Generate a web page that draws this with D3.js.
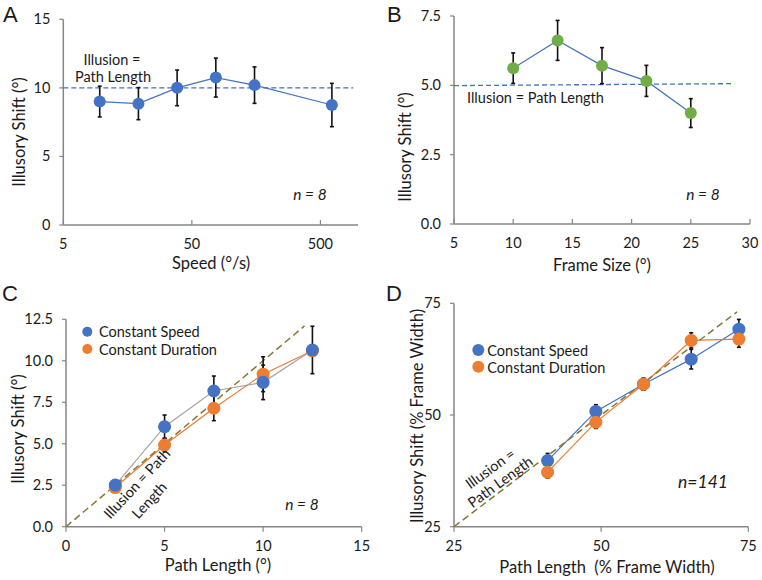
<!DOCTYPE html>
<html><head><meta charset="utf-8">
<script src="https://cdn.jsdelivr.net/npm/d3@7"></script>
<style>
body{margin:0;background:#fff;}
svg{display:block;}
text{font-family:Lato,"Open Sans",sans-serif;fill:#1a1a1a;white-space:pre;}
</style></head>
<body><svg id="c" width="762" height="580"></svg>
<script>
// ---------- DATA ----------
// Panel A
const speedA = [9.6, 19.2, 38.4, 76.8, 153.6, 614];
const shiftA = [9.0, 8.85, 10.0, 10.75, 10.2, 8.75];
const errA   = [1.12, 1.17, 1.3, 1.42, 1.33, 1.58];
const refA = 10;
const xTicksA = [5, 50, 500];
const yTicksA = [0, 5, 10, 15];
// Panel B
const frameB = [10, 13.75, 17.5, 21.25, 25];
const shiftB = [5.62, 6.62, 5.71, 5.16, 4.0];
const errB   = [0.55, 0.72, 0.65, 0.56, 0.52];
const refB = [[5, 4.99], [28.4, 5.06]];
const xTicksB = [5, 10, 15, 20, 25, 30];
const yTicksB = [0, 2.5, 5, 7.5];
// Panel C
const pathC = [2.5, 5, 7.5, 10, 12.5];
const speedC = [2.51, 6.03, 8.18, 8.70, 10.65];
const speedErrC = [0.15, 0.7, 0.9, 1.04, 1.43];
const durC = [2.36, 4.92, 7.14, 9.19, 10.6];
const durErrC = [0.12, 0.4, 0.75, 1.05, 0.3];
const refC = [0, 12.1];
const xTicksC = [0, 5, 10, 15];
const yTicksC = [0, 2.5, 5, 7.5, 10, 12.5];
// Panel D
const pathD = [40.9, 49.1, 57.2, 65.3, 73.4];
const speedD = [39.8, 50.8, 56.9, 62.5, 69.2];
const speedErrD = [1.6, 1.5, 1.3, 2.2, 2.2];
const durD = [37.2, 48.4, 56.9, 66.7, 67.0];
const durErrD = [1.3, 1.4, 1.3, 1.7, 1.85];
const refD = [25, 73.1];
const xTicksD = [25, 50, 75];
const yTicksD = [25, 50, 75];

// ---------- STYLE ----------
const BLUE = "#4472C4", ORANGE = "#ED7D31", GREEN = "#70AD47", GRAYLINE = "#A5A5A5", OLIVE = "#8A7633", AXIS = "#868686";
const svg = d3.select("#c");
const fmt1 = d3.format(".1f");

function axes(g, x, y, xt, yt, xfmt, yfmt, xTickIn) {
  const [x0, x1] = x.range(), [y0, y1] = y.range();
  const ax = g.append("g");
  ax.append("line").attr("x1", x0).attr("x2", x1).attr("y1", y0).attr("y2", y0).attr("stroke", AXIS).attr("stroke-width", 1.5);
  ax.append("line").attr("x1", x0).attr("x2", x0).attr("y1", y0).attr("y2", y1).attr("stroke", AXIS).attr("stroke-width", 1.5);
  ax.selectAll(".xt").data(xt).join("line").attr("x1", d => x(d)).attr("x2", d => x(d))
    .attr("y1", y0).attr("y2", y0 + (xTickIn ? -5 : 5)).attr("stroke", AXIS).attr("stroke-width", 1.2);
  ax.selectAll(".yt").data(yt).join("line").attr("x1", x0 - 4).attr("x2", x0)
    .attr("y1", d => y(d)).attr("y2", d => y(d)).attr("stroke", AXIS).attr("stroke-width", 1.2);
  ax.selectAll(".xl").data(xt).join("text").attr("x", d => x(d)).attr("y", y0 + 24)
    .attr("text-anchor", "middle").attr("font-size", 14.5).text(xfmt);
  ax.selectAll(".yl").data(yt).join("text").attr("x", x0 - 13).attr("y", d => y(d) + 5)
    .attr("text-anchor", "end").attr("font-size", 14.5).text(yfmt);
}
function errBars(g, xs, ys, es, x, y) {
  const d = xs.map((v, i) => [v, ys[i], es[i]]);
  const gg = g.append("g").attr("stroke", "#111").attr("stroke-width", 1.6);
  gg.selectAll(".e").data(d).join("line").attr("x1", d => x(d[0])).attr("x2", d => x(d[0]))
    .attr("y1", d => y(d[1] - d[2])).attr("y2", d => y(d[1] + d[2]));
  gg.selectAll(".c1").data(d).join("line").attr("x1", d => x(d[0]) - 2).attr("x2", d => x(d[0]) + 2)
    .attr("y1", d => y(d[1] - d[2])).attr("y2", d => y(d[1] - d[2]));
  gg.selectAll(".c2").data(d).join("line").attr("x1", d => x(d[0]) - 2).attr("x2", d => x(d[0]) + 2)
    .attr("y1", d => y(d[1] + d[2])).attr("y2", d => y(d[1] + d[2]));
}
function series(g, xs, ys, x, y, lineCol, lw) {
  const d = xs.map((v, i) => [v, ys[i]]);
  g.append("path").datum(d).attr("d", d3.line().x(p => x(p[0])).y(p => y(p[1])))
    .attr("fill", "none").attr("stroke", lineCol).attr("stroke-width", lw || 1.2);
  return d;
}
function dots(g, d, x, y, col, r) {
  g.append("g").selectAll("circle").data(d).join("circle")
    .attr("cx", p => x(p[0])).attr("cy", p => y(p[1])).attr("r", r).attr("fill", col);
}
function ylab(g, txt, cx, cy, fs) {
  g.append("text").attr("transform", `translate(${cx},${cy}) rotate(-90)`).attr("text-anchor", "middle")
    .attr("dominant-baseline", "central").attr("font-size", fs || 16.5).text(txt);
}
function xlab(g, txt, cx, cy) {
  g.append("text").attr("x", cx).attr("y", cy).attr("text-anchor", "middle").attr("dominant-baseline", "central")
    .attr("font-size", 16.5).text(txt);
}
function letter(t, x, y) {
  svg.append("text").attr("x", x).attr("y", y).attr("font-size", 22)
    .style("font-family", "'Liberation Sans',Arial,sans-serif").text(t);
}

// ---------- PANEL A ----------
{
  const g = svg.append("g");
  const x = d3.scaleLog().domain([5, 980]).range([63.3, 358]);
  const y = d3.scaleLinear().domain([0, 15]).range([225, 19.3]);
  axes(g, x, y, xTicksA, yTicksA, d => d, d => d, true);
  g.append("line").attr("x1", x(5)).attr("x2", x(900)).attr("y1", y(refA)).attr("y2", y(refA))
    .attr("stroke", BLUE).attr("stroke-width", 1.3).attr("stroke-dasharray", "5,3");
  const d = series(g, speedA, shiftA, x, y, BLUE);
  errBars(g, speedA, shiftA, errA, x, y);
  dots(g, d, x, y, BLUE, 6);
  g.append("text").attr("x", 112).attr("y", 65).attr("text-anchor", "middle").attr("font-size", 14.5).text("Illusion =");
  g.append("text").attr("x", 113).attr("y", 82).attr("text-anchor", "middle").attr("font-size", 14.5).text("Path Length");
  g.append("text").attr("x", 310).attr("y", 200).attr("text-anchor", "middle").attr("font-size", 15.5).attr("font-style", "italic").text("n = 8");
  ylab(g, "Illusory Shift (°)", 19, 132);
  xlab(g, "Speed (°/s)", 211, 263);
  letter("A", 3, 22);
}
// ---------- PANEL B ----------
{
  const g = svg.append("g");
  const x = d3.scaleLinear().domain([5, 30]).range([454, 750]);
  const y = d3.scaleLinear().domain([0, 7.5]).range([224, 16]);
  axes(g, x, y, xTicksB, yTicksB, d => d, fmt1, true);
  g.append("line").attr("x1", x(refB[0][0])).attr("x2", x(refB[1][0])).attr("y1", y(refB[0][1])).attr("y2", y(refB[1][1]))
    .attr("stroke", BLUE).attr("stroke-width", 1.3).attr("stroke-dasharray", "5,3");
  const d = series(g, frameB, shiftB, x, y, BLUE);
  errBars(g, frameB, shiftB, errB, x, y);
  dots(g, d, x, y, GREEN, 6);
  g.append("text").attr("x", 467).attr("y", 103).attr("font-size", 14.5).text("Illusion = Path Length");
  g.append("text").attr("x", 703).attr("y", 200).attr("text-anchor", "middle").attr("font-size", 15.5).attr("font-style", "italic").text("n = 8");
  ylab(g, "Illusory Shift (°)", 405, 147);
  xlab(g, "Frame Size (°)", 602, 265);
  letter("B", 387, 22);
}
// ---------- PANEL C ----------
{
  const g = svg.append("g");
  const x = d3.scaleLinear().domain([0, 15]).range([66, 361.7]);
  const y = d3.scaleLinear().domain([0, 12.5]).range([526.7, 319.3]);
  axes(g, x, y, xTicksC, yTicksC, d => d, fmt1, false);
  const dd = series(g, pathC, durC, x, y, ORANGE);
  const ds = series(g, pathC, speedC, x, y, GRAYLINE);
  g.append("line").attr("x1", x(refC[0])).attr("x2", x(refC[1])).attr("y1", y(refC[0])).attr("y2", y(refC[1]))
    .attr("stroke", OLIVE).attr("stroke-width", 1.5).attr("stroke-dasharray", "7,4");
  errBars(g, pathC, durC, durErrC, x, y);
  errBars(g, pathC, speedC, speedErrC, x, y);
  dots(g, dd, x, y, ORANGE, 6.5);
  dots(g, ds, x, y, BLUE, 6.5);
  g.append("circle").attr("cx", 87.3).attr("cy", 331.7).attr("r", 5).attr("fill", BLUE);
  g.append("circle").attr("cx", 87.3).attr("cy", 349).attr("r", 5).attr("fill", ORANGE);
  g.append("text").attr("x", 99).attr("y", 337).attr("font-size", 14.5).text("Constant Speed");
  g.append("text").attr("x", 99).attr("y", 354.5).attr("font-size", 14.5).text("Constant Duration");
  g.append("text").attr("transform", "translate(136.7,483.3) rotate(-47)").attr("text-anchor", "middle")
    .attr("dominant-baseline", "central").attr("font-size", 14.5).text("Illusion = Path");
  g.append("text").attr("transform", "translate(149,500) rotate(-47)").attr("text-anchor", "middle")
    .attr("dominant-baseline", "central").attr("font-size", 14.5).text("Length");
  g.append("text").attr("x", 302).attr("y", 510).attr("text-anchor", "middle").attr("font-size", 15.5).attr("font-style", "italic").text("n = 8");
  ylab(g, "Illusory Shift (°)", 18.3, 429);
  xlab(g, "Path Length (°)", 218, 565);
  letter("C", 2, 301);
}
// ---------- PANEL D ----------
{
  const g = svg.append("g");
  const x = d3.scaleLinear().domain([25, 75]).range([454, 748.3]);
  const y = d3.scaleLinear().domain([25, 75]).range([526.7, 303.3]);
  axes(g, x, y, xTicksD, yTicksD, d => d, d => d, false);
  const ds = series(g, pathD, speedD, x, y, BLUE);
  const dd = series(g, pathD, durD, x, y, ORANGE);
  g.append("line").attr("x1", x(refD[0])).attr("x2", x(refD[1])).attr("y1", y(refD[0])).attr("y2", y(refD[1]))
    .attr("stroke", OLIVE).attr("stroke-width", 1.5).attr("stroke-dasharray", "7,4");
  errBars(g, pathD, speedD, speedErrD, x, y);
  errBars(g, pathD, durD, durErrD, x, y);
  dots(g, ds, x, y, BLUE, 6.5);
  dots(g, dd, x, y, ORANGE, 6.5);
  g.append("circle").attr("cx", 478.3).attr("cy", 350).attr("r", 6).attr("fill", BLUE);
  g.append("circle").attr("cx", 478.3).attr("cy", 366.7).attr("r", 6).attr("fill", ORANGE);
  g.append("text").attr("x", 487.3).attr("y", 355.5).attr("font-size", 14.5).text("Constant Speed");
  g.append("text").attr("x", 487.3).attr("y", 372.5).attr("font-size", 14.5).text("Constant Duration");
  g.append("text").attr("transform", "translate(490,468.3) rotate(-36)").attr("text-anchor", "middle")
    .attr("dominant-baseline", "central").attr("font-size", 14.5).text("Illusion =");
  g.append("text").attr("transform", "translate(500,481.7) rotate(-36)").attr("text-anchor", "middle")
    .attr("dominant-baseline", "central").attr("font-size", 14.5).text("Path Length");
  g.append("text").attr("x", 703).attr("y", 488).attr("text-anchor", "middle").attr("font-size", 17.5).attr("font-style", "italic").text("n=141");
  ylab(g, "Illusory Shift (% Frame Width)", 417, 416);
  xlab(g, "Path Length  (% Frame Width)", 607, 567);
  letter("D", 386, 301);
}
</script></body></html>
